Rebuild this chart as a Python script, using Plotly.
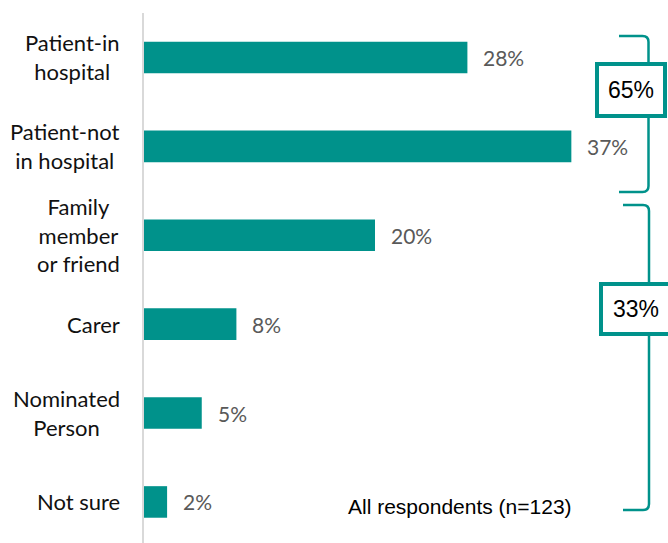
import plotly.graph_objects as go

# Survey responses: who completed the questionnaire
categories = [
    "Patient-in hospital",
    "Patient-not in hospital",
    "Family member or friend",
    "Carer",
    "Nominated Person",
    "Not sure",
]
tick_labels = [
    "Patient-in<br>hospital",
    "Patient-not<br>in hospital",
    "Family<br>member<br>or friend",
    "Carer",
    "Nominated<br>Person",
    "Not sure",
]
percent = [28, 37, 20, 8, 5, 2]

# Grouped totals shown beside the bars (patients / others)
group_totals = [65, 33]
base_note = "All respondents (n=123)"

TEAL = "#00928B"
W, H = 668, 543
ML, MR, MT, MB = 144, 2, 13, 0
PW, PH = W - ML - MR, H - MT - MB
PX_PER_PCT = 11.55
ROW = 88.9


def px(x):
    return (x - ML) / PW


def py(y):
    return 1 - (y - MT) / PH


fig = go.Figure(
    go.Bar(
        x=percent,
        y=categories,
        orientation="h",
        marker=dict(color=TEAL, line=dict(width=0)),
        width=0.355,
        hoverinfo="skip",
    )
)

annotations = []
# Category labels, centred within a right-aligned block
for cat, lab in zip(categories, tick_labels):
    annotations.append(dict(
        x=0, xref="paper", y=cat, yref="y", text=lab, showarrow=False,
        xanchor="right", yanchor="middle", align="center", xshift=-22,
        font=dict(family="Lato", size=22, color="#111111"),
    ))
# Value labels
for cat, v in zip(categories, percent):
    annotations.append(dict(
        x=v, xref="x", y=cat, yref="y", text=f"{v}%", showarrow=False,
        xanchor="left", yanchor="middle", xshift=14,
        font=dict(family="Lato", size=21, color="#595959"),
    ))


def bracket(x_left, x_right, y_top, y_bot, r=6):
    pts = [
        f"M {px(x_left)},{py(y_top)}",
        f"L {px(x_right - r)},{py(y_top)}",
        f"Q {px(x_right)},{py(y_top)} {px(x_right)},{py(y_top + r)}",
        f"L {px(x_right)},{py(y_bot - r)}",
        f"Q {px(x_right)},{py(y_bot)} {px(x_right - r)},{py(y_bot)}",
        f"L {px(x_left)},{py(y_bot)}",
    ]
    return dict(type="path", xref="paper", yref="paper", path=" ".join(pts),
                line=dict(color=TEAL, width=2.5))


shapes = [
    bracket(619, 648.5, 36, 192),
    bracket(623, 649, 205, 510),
    dict(type="rect", xref="paper", yref="paper",
         x0=px(597), x1=px(665), y0=py(116), y1=py(64),
         line=dict(color=TEAL, width=4), fillcolor="white"),
    dict(type="rect", xref="paper", yref="paper",
         x0=px(601), x1=px(676), y0=py(334), y1=py(284),
         line=dict(color=TEAL, width=4), fillcolor="white"),
]

for total, (cx, cy) in zip(group_totals, [(631, 90), (636, 309)]):
    annotations.append(dict(
        x=px(cx), y=py(cy), xref="paper", yref="paper", text=f"{total}%",
        showarrow=False, xanchor="center", yanchor="middle",
        font=dict(family="Liberation Sans", size=23, color="#000000"),
    ))

annotations.append(dict(
    x=px(460), y=py(506), xref="paper", yref="paper", text=base_note,
    showarrow=False, xanchor="center", yanchor="middle",
    font=dict(family="Liberation Sans", size=21, color="#000000"),
))

fig.update_layout(
    width=W, height=H,
    margin=dict(l=ML, r=MR, t=MT, b=MB, pad=0),
    paper_bgcolor="white", plot_bgcolor="white",
    showlegend=False,
    xaxis=dict(range=[0, PW / PX_PER_PCT], visible=False, fixedrange=True),
    yaxis=dict(
        type="category", categoryorder="array", categoryarray=categories,
        range=[-0.5 + PH / ROW, -0.5],
        showticklabels=False, ticks="", showgrid=False, zeroline=False,
        showline=True, linecolor="#D9D9D9", linewidth=2, fixedrange=True,
    ),
    shapes=shapes,
    annotations=annotations,
)

fig.write_html("out.html", config={"displayModeBar": False})
